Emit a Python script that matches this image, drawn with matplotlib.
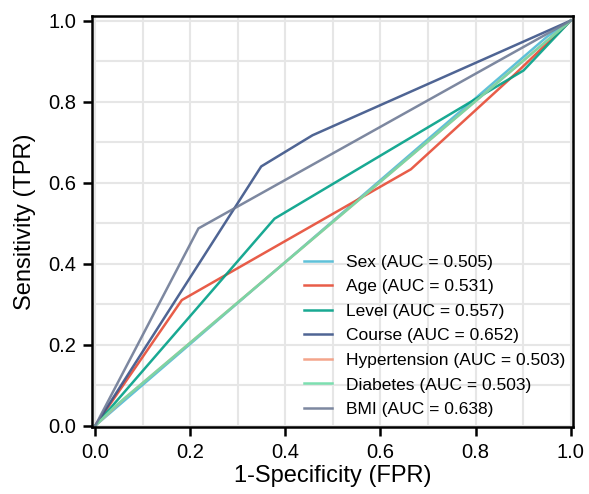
import matplotlib
matplotlib.use("Agg")
import matplotlib.pyplot as plt
from matplotlib.ticker import MultipleLocator

plt.rcParams["font.family"] = ["Liberation Sans", "DejaVu Sans"]

# ROC curve points (FPR, TPR)
names = ["Sex", "Age", "Level", "Course", "Hypertension", "Diabetes", "BMI"]
aucs = [0.505, 0.531, 0.557, 0.652, 0.503, 0.503, 0.638]
fpr_sex = [0.0, 0.95, 1.0]
tpr_sex = [0.0, 0.96, 1.0]
fpr_age = [0.0, 0.182, 0.664, 0.884, 1.0]
tpr_age = [0.0, 0.310, 0.633, 0.869, 1.0]
fpr_level = [0.0, 0.377, 0.901, 1.0]
tpr_level = [0.0, 0.511, 0.877, 1.0]
fpr_course = [0.0, 0.349, 0.457, 1.0]
tpr_course = [0.0, 0.640, 0.717, 1.0]
fpr_hyper = [0.0, 0.06, 1.0]
tpr_hyper = [0.0, 0.066, 1.0]
fpr_diab = [0.0, 0.04, 1.0]
tpr_diab = [0.0, 0.046, 1.0]
fpr_bmi = [0.0, 0.217, 1.0]
tpr_bmi = [0.0, 0.487, 1.0]

fprs = [fpr_sex, fpr_age, fpr_level, fpr_course, fpr_hyper, fpr_diab, fpr_bmi]
tprs = [tpr_sex, tpr_age, tpr_level, tpr_course, tpr_hyper, tpr_diab, tpr_bmi]
colors = ["#4dbbd5", "#e64b35", "#00a087", "#3c5488", "#f39b7f", "#6fdca8", "#6f7b96"]

fig = plt.figure(figsize=(5.89, 4.94), dpi=100)
ax = fig.add_axes([0.157, 0.136, 0.815, 0.832])

for name, auc, x, y, c in zip(names, aucs, fprs, tprs, colors):
    ax.plot(x, y, color=c, lw=1.8, alpha=0.9, label=f"{name} (AUC = {auc:.3f})")

ax.set_xlim(-0.006, 1.004)
ax.set_ylim(-0.003, 1.012)
ax.xaxis.set_major_locator(MultipleLocator(0.2))
ax.yaxis.set_major_locator(MultipleLocator(0.2))
ax.xaxis.set_minor_locator(MultipleLocator(0.1))
ax.yaxis.set_minor_locator(MultipleLocator(0.1))
ax.grid(True, which="both", color="#e6e6e6", lw=1.5)
ax.set_axisbelow(True)
ax.tick_params(which="minor", length=0)
ax.tick_params(which="major", length=6.5, width=1.8, labelsize=14.5, color="black", pad=5)
for s in ax.spines.values():
    s.set_linewidth(1.8)
    s.set_color("black")

ax.set_xlabel("1-Specificity (FPR)", fontsize=17, labelpad=2)
ax.set_ylabel("Sensitivity (TPR)", fontsize=17, labelpad=9)

ax.legend(loc="lower right", bbox_to_anchor=(1.012, -0.008), frameon=False, fontsize=12.5,
          handlelength=1.6, handletextpad=0.8, labelspacing=0.54, borderaxespad=0.35)

plt.savefig("out.png", dpi=100)
